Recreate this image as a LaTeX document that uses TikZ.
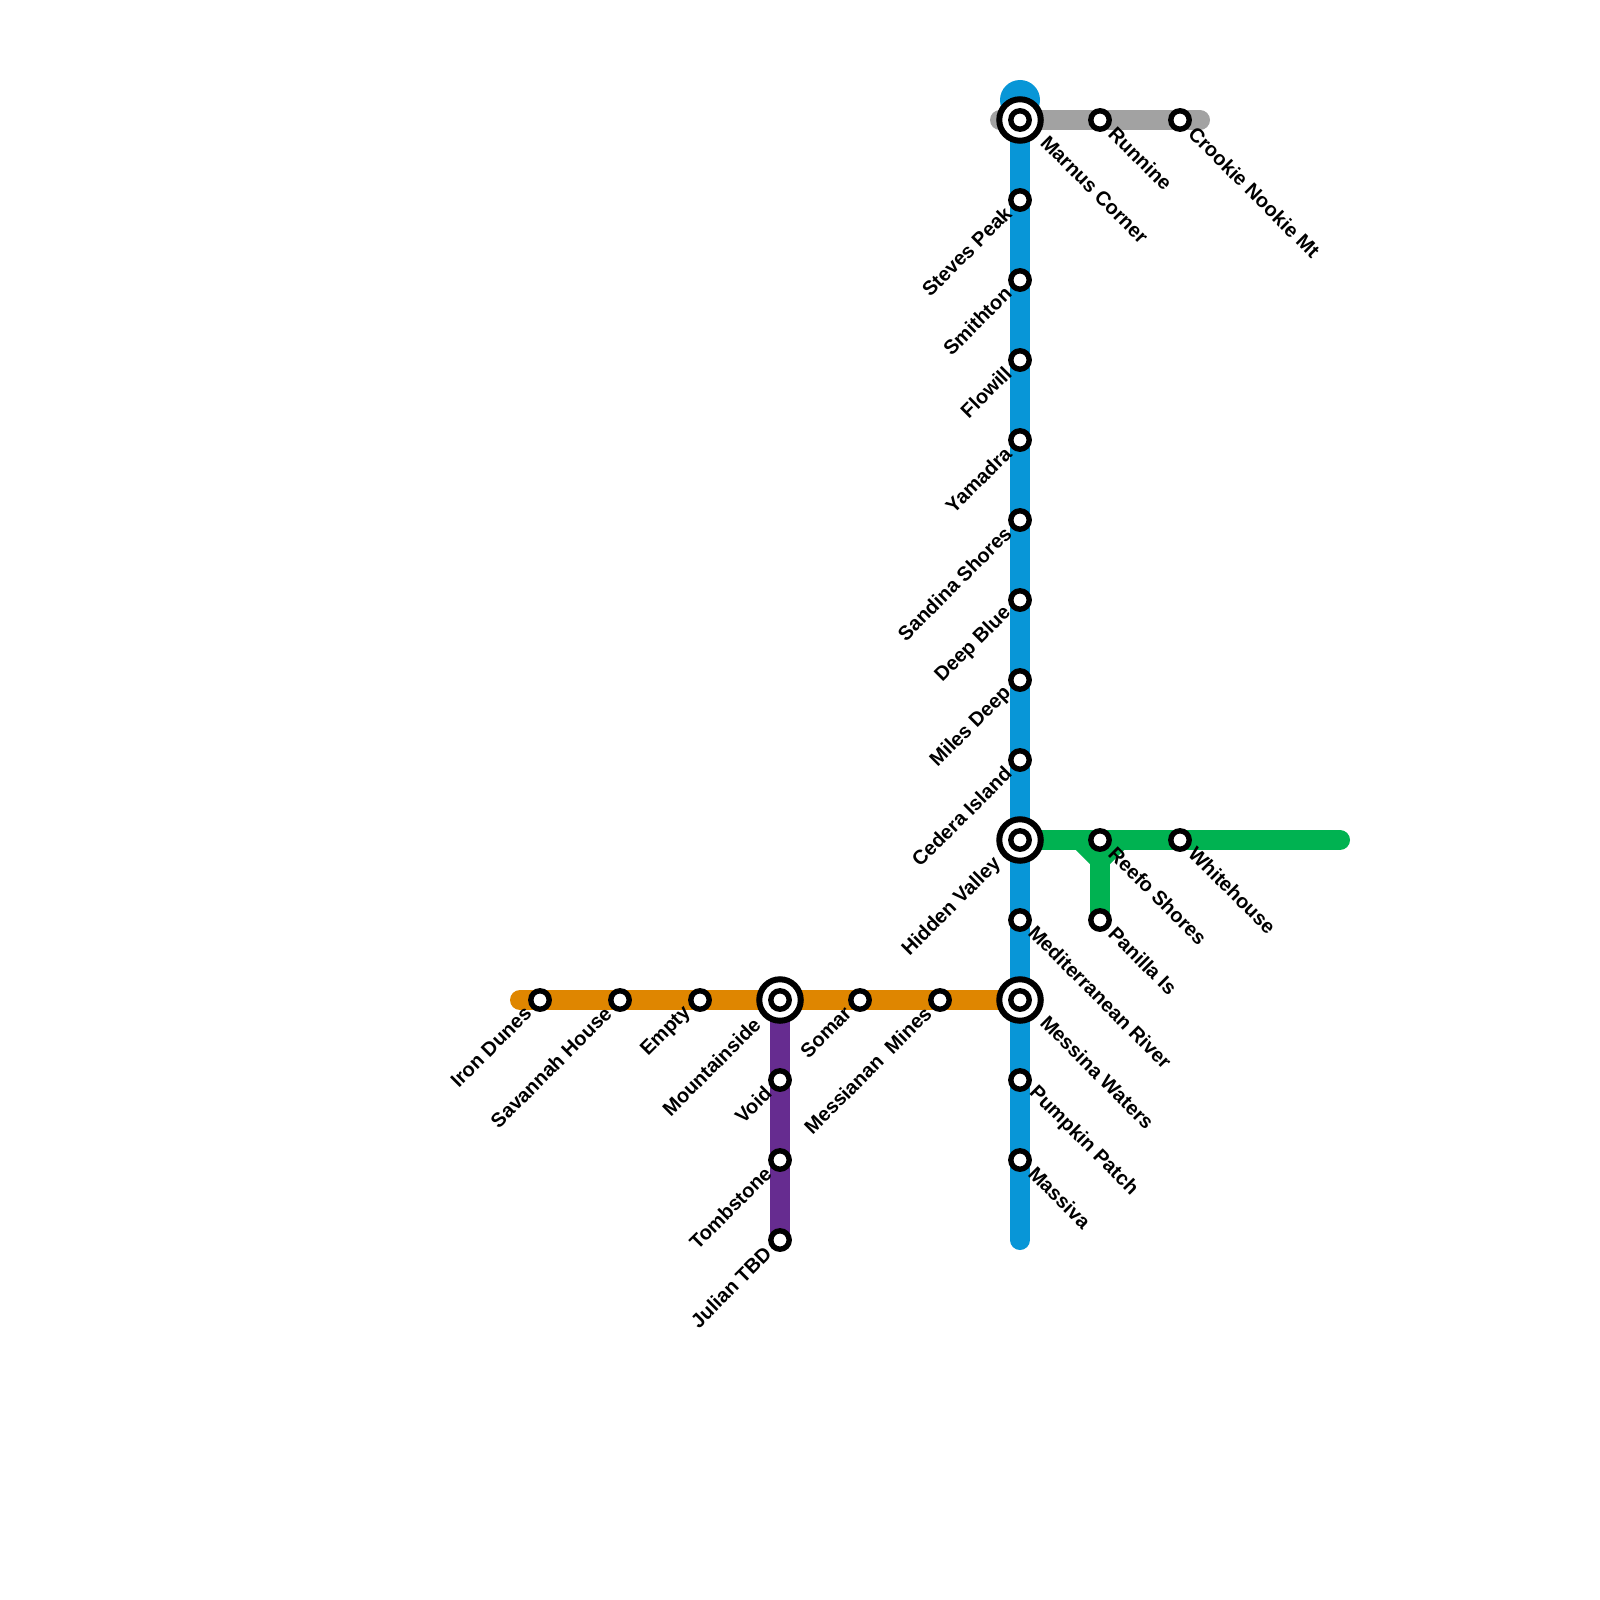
\documentclass[tikz,border=0pt]{standalone}
\usepackage{fontspec}
\setmainfont{Liberation Sans}
\usetikzlibrary{backgrounds}
\definecolor{lblue}{HTML}{0896D7}
\definecolor{lgrey}{HTML}{A2A2A2}
\definecolor{lgreen}{HTML}{00B251}
\definecolor{lorange}{HTML}{DF8600}
\definecolor{lpurple}{HTML}{662C90}
\tikzset{
  x=1pt,y=-1pt,
  metro/.style={line width=20pt,line cap=round,line join=miter},
  stn/.style={circle,draw=black,fill=white,line width=5.4pt,minimum size=18.4pt,inner sep=0pt},
  hub/.style={circle,draw=black,fill=white,line width=6pt,minimum size=41.5pt,inner sep=0pt},
  lr/.style={anchor=west,rotate=-45,inner sep=0pt,font=\fontsize{20}{20}\bfseries},
  ll/.style={anchor=east,rotate=45,inner sep=0pt,font=\fontsize{20}{20}\bfseries},
}
\newcommand{\LR}[5][12]{\node[lr] (#2) at (#3+#1,#4+10) {#5};}
\newcommand{\LL}[4]{\node[ll] (#1) at (#2-12,#3+10) {#4};}
\begin{document}
\begin{tikzpicture}
\useasboundingbox (0,0) rectangle (1600,1600);
% hubs
\node[hub] (hmarnus) at (1020,120) {};
\node[hub] (hhidden) at (1020,840) {};
\node[hub] (hmessina) at (1020,1000) {};
\node[hub] (hmountain) at (780,1000) {};
% blue
\node[stn] (marnus) at (1020,120) {};
\node[stn] (steves) at (1020,200) {};
\node[stn] (smithton) at (1020,280) {};
\node[stn] (flowill) at (1020,360) {};
\node[stn] (yamadra) at (1020,440) {};
\node[stn] (sandina) at (1020,520) {};
\node[stn] (deepblue) at (1020,600) {};
\node[stn] (miles) at (1020,680) {};
\node[stn] (cedera) at (1020,760) {};
\node[stn] (hidden) at (1020,840) {};
\node[stn] (medit) at (1020,920) {};
\node[stn] (messina) at (1020,1000) {};
\node[stn] (pumpkin) at (1020,1080) {};
\node[stn] (massiva) at (1020,1160) {};
% grey
\node[stn] (runnine) at (1100,120) {};
\node[stn] (crookie) at (1180,120) {};
% green
\node[stn] (reefo) at (1100,840) {};
\node[stn] (panilla) at (1100,920) {};
\node[stn] (white) at (1180,840) {};
% orange
\node[stn] (iron) at (540,1000) {};
\node[stn] (savannah) at (620,1000) {};
\node[stn] (empty) at (700,1000) {};
\node[stn] (mountain) at (780,1000) {};
\node[stn] (somar) at (860,1000) {};
\node[stn] (mines) at (940,1000) {};
% purple
\node[stn] (void) at (780,1080) {};
\node[stn] (tomb) at (780,1160) {};
\node[stn] (julian) at (780,1240) {};
% free ends
\coordinate (bluetop) at (1020,100);
\coordinate (blueend) at (1020,1240);
\coordinate (greyL) at (1000,120);
\coordinate (greyR) at (1200,120);
\coordinate (greenR) at (1340,840);
\coordinate (orangeL) at (520,1000);
\coordinate (bendL) at (1080,840);
\coordinate (bendR) at (1120,840);
\coordinate (bend) at (1100,860);
\begin{pgfonlayer}{background}
\draw[metro,lgrey] (greyL) -- (greyR);
\draw[metro,lorange] (orangeL) -- (hmessina.center);
\draw[metro,lpurple] (hmountain.center) -- (julian.center);
\draw[metro,lgreen] (hhidden.center) -- (greenR);
\draw[metro,lgreen,line cap=butt] (bendL) -- (bend) -- (bendR);
\draw[metro,lgreen,line cap=butt] (bend) -- (panilla.center);
\draw[metro,lblue] (bluetop) -- (blueend);
\fill[lblue] (bluetop) circle[radius=20pt];
\end{pgfonlayer}
% labels right
\LR[24]{tmarnus}{1020}{129}{Marnus Corner}
\LR{trunnine}{1100}{120}{Runnine}
\LR{tcrookie}{1180}{120}{Crookie Nookie Mt}
\LR{treefo}{1100}{840}{Reefo Shores}
\LR{tpanilla}{1100}{920}{Panilla Is}
\LR{twhite}{1180}{840}{Whitehouse}
\LR{tmedit}{1020}{919}{Mediterranean River}
\LR[24]{tmessina}{1020}{1009}{Messina Waters}
\LR{tpumpkin}{1020}{1080}{Pumpkin Patch}
\LR{tmassiva}{1020}{1160}{Massiva}
% labels left
\LL{tsteves}{1020}{200}{Steves Peak}
\LL{tsmith}{1020}{280}{Smithton}
\LL{tflow}{1020}{360}{Flowill}
\LL{tyam}{1020}{440}{Yamadra}
\LL{tsand}{1020}{520}{Sandina Shores}
\LL{tdeep}{1020}{600}{Deep Blue}
\LL{tmiles}{1020}{680}{Miles Deep}
\LL{tcedera}{1020}{760}{Cedera Island}
\LL{thidden}{1010}{851}{Hidden Valley}
\LL{tiron}{540}{1000}{Iron Dunes}
\LL{tsav}{620}{1000}{Savannah House}
\LL{tempty}{700}{1000}{Empty}
\LL{tmount}{769}{1011}{Mountainside}
\LL{tsomar}{860}{1000}{Somar}
\LL{tmines}{940}{1000}{Messianan\ \ Mines}
\LL{tvoid}{780}{1080}{Void}
\LL{ttomb}{780}{1160}{Tombstone}
\LL{tjulian}{780}{1240}{Julian TBD}
\end{tikzpicture}
\end{document}
